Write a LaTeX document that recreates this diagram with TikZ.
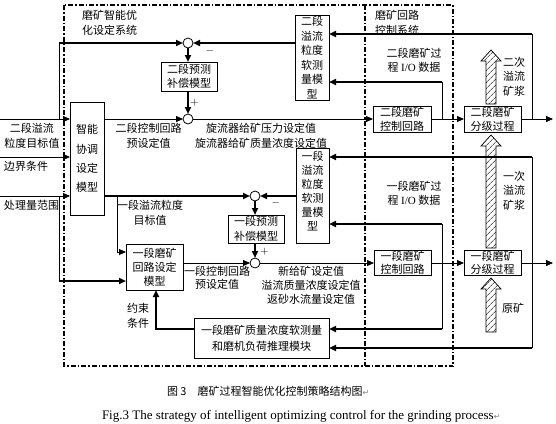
\documentclass[tikz,border=0pt]{standalone}
\usepackage{fontspec}
\setmainfont{Liberation Serif}
\newfontfamily\cjk{Noto Sans CJK SC}
\newfontfamily\djv{DejaVu Sans}
\newcommand\cjkls[1]{\cjk\fontsize{11}{#1}\selectfont}
\usetikzlibrary{arrows.meta,patterns.meta}
\begin{document}
\begin{tikzpicture}[x=1pt,y=-1pt,
  every node/.style={inner sep=0pt,outer sep=0pt},
  txt/.style={font=\cjkls{15},align=center},
  box/.style={draw,line width=0.8pt,inner sep=0pt,font=\cjkls{14},align=center},
  thin/.style={line width=0.8pt},
  thk/.style={line width=1.8pt},
  arr/.style={-{Triangle[length=7pt,width=6pt]}},
  sumc/.style={draw,circle,line width=0.8pt,minimum size=10pt,inner sep=0pt},
  frame/.style={line width=1.2pt,dash pattern=on 5pt off 2pt on 1.5pt off 2pt},
  hatch/.style={draw,line width=0.7pt,fill=white,postaction={pattern={Lines[angle=45,distance=4pt,line width=0.5pt]}}}
]
\useasboundingbox (0,0) rectangle (556,423);

% frames
\draw[frame] (64,5) rectangle (453,366);
\draw[frame] (365,5) -- (365,366);
\node[txt,anchor=west,align=left] (lblA) at (82,22.5) {磨矿智能优\\化设定系统};
\node[txt,anchor=west,align=left] (lblB) at (375,22.5) {磨矿回路\\控制系统};

% hatched slurry arrows
\draw[hatch] (486,104) -- (486,61) -- (481,61) -- (491,50) -- (501,61) -- (496,61) -- (496,104) -- cycle;
\draw[hatch] (486,248) -- (486,146) -- (481,146) -- (491,135) -- (501,146) -- (496,146) -- (496,248) -- cycle;
\draw[hatch] (486,332) -- (486,289) -- (481,289) -- (491,278) -- (501,289) -- (496,289) -- (496,332) -- cycle;

% boxes
\node[box,minimum width=34pt,minimum height=113pt,font=\cjkls{19.3}] (intel) at (87,158.5) {智能\\协调\\设定\\模型};
\node[box,minimum width=56pt,minimum height=29pt] (pred2) at (189,76.5) {二段预测\\补偿模型};
\node[box,minimum width=34pt,minimum height=85pt,font=\cjkls{14.6}] (soft2) at (312,57.5) {二段\\溢流\\粒度\\软测\\量模\\型};
\node[box,minimum width=58pt,minimum height=26pt] (ctrl2) at (402,119) {二段磨矿\\控制回路};
\node[box,minimum width=57pt,minimum height=26pt] (proc2) at (492.5,119) {二段磨矿\\分级过程};

\node[box,minimum width=33pt,minimum height=95pt] (soft1) at (312.5,195.5) {};
\node[txt,font=\cjkls{14}] (soft1T) at (312.5,191) {一段\\溢流\\粒度\\软测\\量模\\型};
\node[box,minimum width=56pt,minimum height=28pt,font=\cjkls{15}] (pred1) at (256,229) {一段预测\\补偿模型};
\node[box,minimum width=57pt,minimum height=46pt] (set1) at (154.5,267) {一段磨矿\\回路设定\\模型};
\node[box,minimum width=57pt,minimum height=25pt,font=\cjkls{13.5}] (ctrl1) at (402.5,263) {一段磨矿\\控制回路};
\node[box,minimum width=57pt,minimum height=25pt,font=\cjkls{13.5}] (proc1) at (492.5,263) {一段磨矿\\分级过程};
\node[box,minimum width=135pt,minimum height=40pt,font=\cjkls{16}] (qual) at (261.5,338) {一段磨矿质量浓度软测量\\和磨机负荷推理模块};

% summing junctions
\node[sumc] (c1) at (188,43) {};
\node[sumc] (c2) at (188,119) {};
\node[sumc] (c3) at (255,196) {};
\node[sumc] (c4) at (255,263) {};
\node[font=\fontsize{11}{11}\selectfont] (m1) at (210,51) {$-$};
\node[font=\fontsize{11}{11}\selectfont] (p2) at (194.5,103) {$+$};
\node[font=\fontsize{11}{11}\selectfont] (m3) at (276,203) {$-$};
\node[font=\fontsize{11}{11}\selectfont] (p4) at (264.5,252) {$+$};

% labels
\node[txt] (in2T) at (32,135.5) {二段溢流\\粒度目标值};
\node[txt,anchor=west] (bndT) at (4,166) {边界条件};
\node[txt,anchor=west] (capT) at (4,205) {处理量范围};
\node[txt] (p2T) at (148.5,135.5) {二段控制回路\\预设定值};
\node[txt] (cycT) at (261,135.5) {旋流器给矿压力设定值\\旋流器给矿质量浓度设定值};
\node[txt,font=\cjkls{14}] (io2T) at (414,60) {二段磨矿过\\程 {\rmfamily I/O} 数据};
\node[txt,font=\cjkls{14}] (io1T) at (414,193) {一段磨矿过\\程 {\rmfamily I/O} 数据};
\node[txt,font=\cjkls{14.5}] (sl2T) at (514,76.5) {二次\\溢流\\矿浆};
\node[txt,font=\cjkls{14.5}] (sl1T) at (514,190.5) {一次\\溢流\\矿浆};
\node[txt] (oreT) at (513,308) {原矿};
\node[txt] (t1T) at (150,212.5) {一段溢流粒度\\目标值};
\node[txt,font=\cjkls{13.5}] (p1T) at (217,278) {一段控制回路\\预设定值};
\node[txt,font=\cjkls{14}] (v1T) at (311,285) {新给矿设定值\\溢流质量浓度设定值\\返砂水流量设定值};
\node[txt] (conT) at (138,315.5) {约束\\条件};

% 二段 connectors
\coordinate (in2) at (0,119);
\coordinate (j2a) at (59,119);
\coordinate (j2b) at (59,43);
\draw[thin,arr] (in2) -- (in2 -| intel.west);
\draw[thin] (j2a) -- (j2b);
\draw[thk,arr] (j2b) -- (c1.west);
\draw[thk,arr] (soft2.west |- c1) -- (c1.east);
\draw[thk,arr] (c1.south) -- (c1 |- pred2.north);
\draw[thk,arr] (c2 |- pred2.south) -- (c2.north);
\draw[thin,arr] (intel.east |- c2) -- (c2.west);
\draw[thin,arr] (c2.east) -- (ctrl2.west |- c2);
\draw[thin,arr] (ctrl2.east) -- (proc2.west);
\coordinate (out2) at (553,119);
\draw[thin,arr] (proc2.east) -- (out2);
\coordinate (f2a) at (532,119);
\coordinate (f2b) at (532,34);
\draw[thin] (f2a) -- (f2b);
\draw[thk,arr] (f2b) -- (f2b -| soft2.east);
\coordinate (g2a) at (442,119);
\coordinate (g2b) at (442,82);
\draw[thin] (g2a) -- (g2b);
\draw[thk,arr] (g2b) -- (g2b -| soft2.east);

% 一段 connectors
\coordinate (inb) at (0,157);
\draw[thin,arr] (inb) -- (inb -| intel.west);
\coordinate (inc) at (0,196);
\draw[thin,arr] (inc) -- (inc -| intel.west);
\coordinate (j1a) at (59,196);
\coordinate (j1b) at (59,281);
\draw[thin] (j1a) -- (j1b);
\draw[thk,arr] (j1b) -- (j1b -| set1.west);
\draw[thk,arr] (intel.east |- c3) -- (c3.west);
\coordinate (k1a) at (117,196);
\coordinate (k1b) at (117,252);
\draw[thin] (k1a) -- (k1b);
\draw[thin,arr] (k1b) -- (k1b -| set1.west);
\draw[thk,arr] (soft1.west |- c3) -- (c3.east);
\draw[thk,arr] (c3.south) -- (c3 |- pred1.north);
\draw[thk,arr] (c4 |- pred1.south) -- (c4.north);
\draw[thin,arr] (set1.east |- c4) -- (c4.west);
\draw[thin,arr] (c4.east) -- (ctrl1.west |- c4);
\draw[thin,arr] (ctrl1.east) -- (proc1.west);
\coordinate (out1) at (553,263);
\draw[thin,arr] (proc1.east) -- (out1);
\coordinate (f1a) at (532,157);
\coordinate (f1b) at (532,348);
\draw[thin] (f1a) -- (f1b);
\draw[thk,arr] (f1a) -- (f1a -| soft1.east);
\draw[thk,arr] (f1b) -- (f1b -| qual.east);
\coordinate (g1a) at (442,224);
\coordinate (g1b) at (442,329);
\draw[thin] (g1a) -- (g1b);
\draw[thk,arr] (g1a) -- (g1a -| soft1.east);
\draw[thk,arr] (g1b) -- (g1b -| qual.east);
\coordinate (q1) at (156,329);
\draw[thk,arr] (qual.west |- q1) -- (q1) -- (q1 |- set1.south);

% captions
\node[txt,anchor=west] (capCN) at (167,391) {图 3　磨矿过程智能优化控制策略结构图{\djv\color{gray}\fontsize{8}{8}\selectfont ↵}};
\node[anchor=west,font=\fontsize{13}{15}\selectfont] (capEN) at (102,416) {Fig.3 The strategy of intelligent optimizing control for the grinding process{\djv\color{gray}\fontsize{8}{8}\selectfont ↵}};
\end{tikzpicture}
\end{document}
